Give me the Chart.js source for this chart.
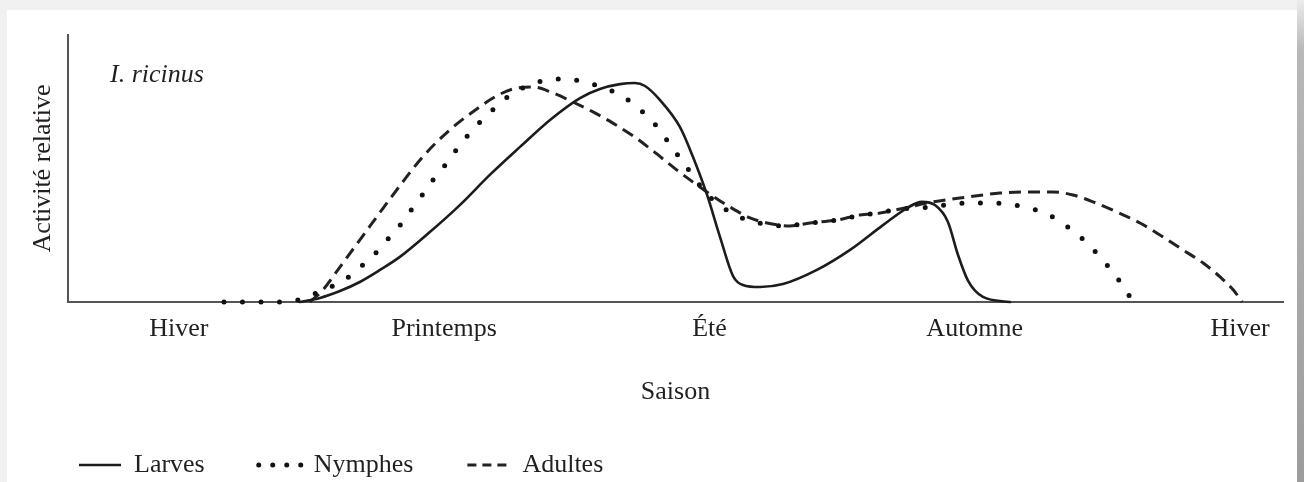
<!DOCTYPE html>
<html><head><meta charset="utf-8">
<script src="https://cdn.jsdelivr.net/npm/chart.js@4/dist/chart.umd.min.js"></script>
<style>
html,body{margin:0;padding:0;width:1304px;height:482px;overflow:hidden;background:#f1f1f1;}
#card{position:absolute;left:7px;top:10px;width:1290px;height:472px;background:#fff;}
#edge{position:absolute;left:1297px;top:0;width:7px;height:482px;background:linear-gradient(to bottom,#ececec 0px,#b8b8b8 50px,#9c9c9c 100%);}
#c{position:absolute;left:0;top:0;}
</style></head><body>
<div id="card"></div><div id="edge"></div>
<canvas id="c" width="1304" height="482"></canvas>
<script>
// ---- data ----
const seasonLabels = ['Hiver', 'Printemps', 'Été', 'Automne', 'Hiver'];
const seriesNames = ['Larves', 'Nymphes', 'Adultes'];
const speciesName = 'I. ricinus';
const xTitle = 'Saison';
const yTitle = 'Activité relative';

const larvesX = [0.456,0.532,0.607,0.682,0.758,0.833,0.946,1.059,1.172,1.286,1.399,1.512,1.587,1.663,1.719,1.757,1.813,1.889,1.938,1.991,2.040,2.089,2.126,2.191,2.277,2.405,2.530,2.654,2.745,2.801,2.850,2.899,2.937,2.975,3.031,3.133];
const larvesY = [0,1.5,4.1,7.5,12.0,16.9,26.2,36.3,47.6,58.1,68.2,76.4,79.8,81.6,82.0,80.9,75.7,65.5,54.3,40.1,24.3,9.7,6.4,5.6,6.7,12.0,19.5,28.8,35.2,37.5,36.3,30.0,17.6,7.9,1.9,0];

const nymphesX = [0.170,0.381,0.449,0.520,0.581,0.641,0.694,0.746,0.792,0.837,0.878,0.920,0.961,1.007,1.048,1.090,1.139,1.191,1.244,1.304,1.372,1.444,1.512,1.580,1.648,1.704,1.757,1.806,1.847,1.889,1.930,1.972,2.013,2.077,2.141,2.209,2.277,2.349,2.417,2.484,2.556,2.632,2.699,2.767,2.843,2.914,2.982,3.050,3.122,3.189,3.254,3.314,3.370,3.423,3.472,3.517,3.559,3.597];
const nymphesY = [0,0,0.8,3.4,6.0,9.4,13.9,18.7,24.0,29.2,34.8,40.4,46.1,51.7,57.3,62.5,67.8,72.7,77.2,80.5,82.8,83.5,82.8,80.9,78.3,74.9,70.4,65.2,59.6,53.9,48.3,42.7,38.2,33.7,30.7,29.2,28.5,29.2,30.0,30.7,32.2,33.3,34.5,35.2,35.6,36.7,37.1,37.1,36.7,35.6,33.7,30.7,26.6,22.1,16.9,11.6,6.0,0];

const adultesX = [0.494,0.543,0.607,0.690,0.765,0.841,0.909,0.976,1.048,1.123,1.191,1.259,1.335,1.410,1.485,1.561,1.636,1.712,1.787,1.862,1.938,2.002,2.077,2.153,2.217,2.303,2.379,2.481,2.567,2.643,2.718,2.843,2.971,3.095,3.220,3.295,3.370,3.446,3.536,3.623,3.698,3.785,3.861,3.925,3.975,4.008];
const adultesY = [0,4.5,13.1,24.3,34.5,44.6,53.2,60.3,66.7,72.3,76.8,79.8,80.5,78.3,74.9,71.2,67.0,62.2,56.6,50.6,44.9,40.4,35.6,31.5,29.6,28.5,29.6,30.7,32.6,33.3,34.8,37.5,39.3,40.8,41.2,41.2,40.1,37.5,33.7,29.6,25.1,19.5,14.6,9.4,4.5,0];

// ---- styling ----
const FONT = '"Liberation Serif", "Times New Roman", serif';
const INK = '#231f20';
const AXIS = '#555';
const legendDash = [[], [0, 14], [9, 6]];

Chart.defaults.font.family = FONT;
Chart.defaults.font.size = 26;
Chart.defaults.color = INK;

const toPts = (xs, ys) => xs.map((x, i) => ({x: x, y: ys[i]}));

const speciesLabel = {
  id: 'speciesLabel',
  afterDraw(chart) {
    const {ctx, chartArea: a} = chart;
    ctx.save();
    ctx.font = 'italic 26px ' + FONT;
    ctx.fillStyle = INK;
    ctx.textBaseline = 'alphabetic';
    ctx.textAlign = 'left';
    ctx.fillText(speciesName, a.left + 42, a.top + 47);
    ctx.restore();
  }
};

const common = {pointRadius: 0, pointHoverRadius: 0, fill: false, clip: false,
  cubicInterpolationMode: 'monotone', backgroundColor: 'rgba(0,0,0,0)'};

new Chart(document.getElementById('c'), {
  type: 'line',
  data: {
    datasets: [
      Object.assign({label: seriesNames[0], data: toPts(larvesX, larvesY),
        borderColor: '#1c1c1c', borderWidth: 2.6, borderCapStyle: 'round'}, common),
      Object.assign({label: seriesNames[1], data: toPts(nymphesX, nymphesY),
        borderColor: '#111', borderWidth: 5, borderDash: [0, 18.5], borderCapStyle: 'round'}, common),
      Object.assign({label: seriesNames[2], data: toPts(adultesX, adultesY),
        borderColor: '#222', borderWidth: 3, borderDash: [12, 7], borderCapStyle: 'butt'}, common)
    ]
  },
  options: {
    responsive: false,
    animation: false,
    devicePixelRatio: 1,
    events: [],
    layout: {padding: {left: 25, right: 21, top: 35, bottom: 0}},
    plugins: {
      tooltip: {enabled: false},
      legend: {
        position: 'bottom',
        align: 'start',
        maxHeight: 84,
        labels: {
          boxWidth: 42,
          boxHeight: 0,
          padding: 54,
          color: INK,
          font: {size: 26, family: FONT},
          generateLabels: (chart) => {
            const items = Chart.defaults.plugins.legend.labels.generateLabels(chart);
            items.forEach((it, i) => { it.lineDash = legendDash[i]; it.fillStyle = 'rgba(0,0,0,0)'; });
            return items;
          }
        }
      }
    },
    scales: {
      x: {
        type: 'linear',
        min: -0.418,
        max: 4.162,
        afterFit: (s) => { s.height = 96; },
        afterBuildTicks: (s) => { s.ticks = seasonLabels.map((_, i) => ({value: i})); },
        grid: {display: false, drawTicks: false},
        border: {display: true, color: AXIS, width: 2},
        ticks: {autoSkip: false, maxRotation: 0, minRotation: 0, padding: 12, color: INK,
          callback: (v) => seasonLabels[v] !== undefined ? seasonLabels[v] : ''},
        title: {display: true, text: xTitle, color: INK, padding: {top: 0, bottom: -10}}
      },
      y: {
        min: 0,
        max: 100,
        afterFit: (s) => { s.width = 43; },
        grid: {display: false, drawTicks: false},
        border: {display: true, color: AXIS, width: 2},
        ticks: {display: false},
        title: {display: true, text: yTitle, color: INK, padding: {top: 3, bottom: 0}}
      }
    }
  },
  plugins: [speciesLabel]
});
</script>
</body></html>
